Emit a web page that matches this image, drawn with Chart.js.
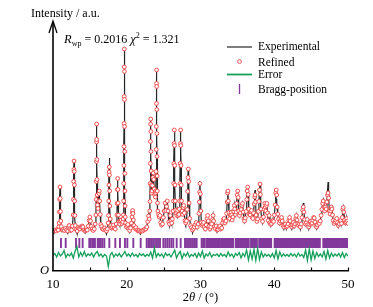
<!DOCTYPE html>
<html>
<head>
<meta charset="utf-8">
<script src="https://cdn.jsdelivr.net/npm/chart.js@4"></script>
<style>
  html, body { margin: 0; padding: 0; background: #fff; }
  canvas { display: block; }
</style>
</head>
<body>
<canvas id="xrd" width="373" height="307"></canvas>
<script>
// 2θ positions of the profile (deg)
const twoTheta = [
  10.00, 10.15, 10.30, 10.45, 10.60, 10.72, 10.80,
  10.84, 10.87, 10.90, 10.95, 10.99, 11.02, 11.06, 11.12,
  11.25, 11.40, 11.55, 11.70, 11.85, 12.00, 12.12, 12.20, 12.28, 12.40, 12.52, 12.64,
  12.74, 12.77, 12.80, 12.825, 12.85, 12.875, 12.90, 12.93, 12.97, 13.03,
  13.15, 13.28, 13.40, 13.52, 13.65, 13.80, 13.95, 14.05, 14.20, 14.35, 14.50, 14.65, 14.80, 14.90, 15.00, 15.08, 15.18, 15.30, 15.45, 15.60, 15.72,
  15.82, 15.85, 15.87, 15.89, 15.905, 15.92, 15.935, 15.95, 15.97, 15.995, 16.03, 16.10, 16.18, 16.24, 16.28, 16.33, 16.40, 16.48,
  16.60, 16.72, 16.85, 17.00, 17.12, 17.25, 17.38, 17.48,
  17.53, 17.56, 17.59, 17.61, 17.63, 17.655, 17.68, 17.71, 17.76, 17.84,
  17.95, 18.08, 18.20, 18.32, 18.45, 18.57,
  18.67, 18.70, 18.73, 18.77, 18.80, 18.83, 18.88, 18.95,
  19.05, 19.15, 19.25, 19.35, 19.45, 19.52,
  19.55, 19.575, 19.595, 19.61, 19.625, 19.64, 19.655, 19.667, 19.675, 19.685, 19.697, 19.71, 19.725, 19.74, 19.755, 19.775, 19.80, 19.85,
  19.95, 20.05, 20.15, 20.28, 20.40, 20.52, 20.64,
  20.72, 20.76, 20.80, 20.84, 20.90, 20.98,
  21.10, 21.25, 21.40, 21.55, 21.70, 21.85, 22.00, 22.15, 22.30, 22.45, 22.60, 22.72, 22.85, 22.95, 23.05,
  23.12, 23.15, 23.175, 23.195, 23.215, 23.235, 23.25, 23.265, 23.285, 23.305, 23.33, 23.36, 23.42, 23.48, 23.54, 23.60, 23.66, 23.72, 23.80, 23.88, 23.93,
  23.95, 23.975, 23.995, 24.01, 24.025, 24.04, 24.05, 24.062, 24.075, 24.09, 24.105, 24.12, 24.14, 24.17, 24.22,
  24.30, 24.40, 24.50, 24.60, 24.72, 24.85, 24.97, 25.08, 25.20, 25.30, 25.40, 25.50, 25.60, 25.70, 25.80, 25.90, 26.00, 26.10, 26.20, 26.28,
  26.33, 26.36, 26.39, 26.42, 26.45, 26.48, 26.51, 26.54, 26.58, 26.64,
  26.72, 26.80, 26.90, 27.00, 27.08, 27.14,
  27.18, 27.21, 27.24, 27.27, 27.30, 27.33, 27.36, 27.39, 27.43, 27.50,
  27.58, 27.66, 27.72, 27.80, 27.90, 28.00, 28.10, 28.20,
  28.26, 28.30, 28.35, 28.40, 28.46, 28.54,
  28.65, 28.78, 28.92, 29.05, 29.18, 29.30, 29.42, 29.55, 29.68, 29.78,
  29.84, 29.88, 29.93, 29.98, 30.04, 30.12,
  30.22, 30.32, 30.42, 30.52, 30.65, 30.78, 30.90, 30.97, 31.05, 31.15, 31.28, 31.40, 31.52, 31.62, 31.70, 31.78, 31.88, 32.00, 32.12, 32.25, 32.38, 32.50, 32.62, 32.75, 32.88, 33.00, 33.10, 33.20, 33.32, 33.45, 33.55,
  33.62, 33.67, 33.72, 33.78, 33.86, 33.95, 34.05, 34.15, 34.22, 34.30, 34.40, 34.50, 34.58, 34.64, 34.72, 34.82, 34.90, 34.97, 35.04, 35.10, 35.18, 35.28, 35.40, 35.52, 35.62, 35.70, 35.78, 35.88, 35.98, 36.08, 36.18, 36.27, 36.34, 36.40, 36.46, 36.54, 36.64, 36.75, 36.85, 36.92, 37.00,
  37.10, 37.20, 37.28, 37.35, 37.40, 37.46, 37.54, 37.64, 37.74, 37.84, 37.92, 38.00, 38.07, 38.13, 38.20, 38.30, 38.42, 38.54, 38.64, 38.72, 38.78, 38.86, 38.94, 39.00, 39.08, 39.18, 39.30, 39.42, 39.52, 39.62, 39.72, 39.82, 39.92, 40.02, 40.12,
  40.20, 40.27, 40.33, 40.40, 40.48, 40.58, 40.70, 40.82, 40.92, 41.00, 41.08, 41.18, 41.30, 41.42, 41.52, 41.64, 41.76, 41.88, 41.98, 42.08, 42.16, 42.26, 42.38, 42.50, 42.60, 42.70, 42.82, 42.92, 43.00, 43.08, 43.18, 43.30, 43.42, 43.54, 43.66, 43.76, 43.85,
  43.94, 44.02, 44.12, 44.24, 44.36, 44.46, 44.56, 44.68, 44.80, 44.90, 45.00, 45.12, 45.24, 45.34, 45.42, 45.52, 45.64, 45.76, 45.88, 46.00, 46.12, 46.24, 46.36, 46.46, 46.56, 46.65, 46.74, 46.84,
  46.94, 47.04, 47.14, 47.22, 47.30, 47.37, 47.46, 47.56, 47.66, 47.74, 47.82, 47.90,
  48.00, 48.12, 48.24, 48.36, 48.48, 48.58, 48.68, 48.80, 48.92, 49.02, 49.12, 49.22, 49.30, 49.36, 49.44, 49.54, 49.64, 49.74, 49.82, 49.92, 50.00
];

// measured intensity (a.u.)
const observed = [
  400, 380, 415, 395, 420, 405, 440,
  480, 600, 720, 850, 730, 600, 500, 440,
  400, 420, 395, 430, 410, 380, 440, 460, 420, 395, 410, 450,
  560, 720, 900, 1020, 1110, 1000, 860, 700, 550, 450,
  410, 370, 440, 425, 420, 445, 455, 440, 400, 380, 415, 410, 450, 510, 550, 500, 440, 415, 395, 420, 470,
  560, 720, 900, 1100, 1300, 1480, 1320, 1120, 920, 760, 660, 620, 700, 780, 810, 700, 560, 460,
  450, 415, 410, 435, 400, 370, 420, 480,
  560, 720, 900, 1050, 1130, 1000, 820, 660, 520, 450,
  420, 445, 465, 430, 410, 470,
  560, 680, 820, 930, 820, 680, 560, 490,
  460, 505, 515, 470, 490, 520,
  560, 700, 880, 1060, 1250, 1480, 1750, 2050, 2230, 2000, 1720, 1450, 1200, 980, 800, 650, 540, 480,
  430, 455, 470, 420, 390, 430, 480,
  540, 590, 610, 580, 510, 450,
  420, 440, 405, 390, 400, 370, 400, 395, 410, 425, 420, 440, 500, 560, 520,
  600, 700, 880, 1080, 1300, 1480, 1530, 1400, 1200, 1000, 860, 780, 800, 860, 940, 990, 920, 820, 760, 740, 780,
  800, 1000, 1220, 1450, 1680, 1880, 2020, 1850, 1620, 1380, 1150, 950, 800, 680, 600,
  560, 540, 560, 480, 450, 470, 540, 600, 690, 600, 650, 710, 600, 480, 450, 560, 500, 470, 520, 600,
  700, 880, 1080, 1280, 1420, 1260, 1060, 860, 700, 610,
  570, 550, 610, 550, 560, 620,
  700, 880, 1080, 1280, 1420, 1260, 1060, 860, 700, 600,
  560, 640, 660, 580, 500, 470, 500, 620,
  800, 940, 1030, 900, 680, 520,
  450, 430, 380, 420, 440, 470, 490, 430, 470, 580,
  700, 800, 900, 780, 600, 480,
  450, 470, 490, 430, 410, 460, 530, 560, 500, 440, 410, 440, 470, 520, 560, 500, 440, 420, 450, 390, 410, 440, 450, 410, 430, 480, 520, 530, 480, 500, 580,
  700, 790, 810, 700, 580, 520, 560, 590, 560, 500, 540, 600, 660, 620, 560, 590, 680, 770, 810, 740, 600, 550, 580, 620, 660, 680, 590, 520, 490, 530, 600, 720, 810, 850, 770, 620, 560, 560, 600, 610, 530,
  520, 580, 680, 780, 810, 700, 560, 480, 520, 600, 700, 820, 880, 770, 620, 520, 480, 540, 620, 680, 640, 600, 660, 680, 580, 500, 560, 480, 450, 470, 500, 510, 490, 560, 660,
  760, 720, 700, 620, 560, 520, 470, 500, 520, 540, 500, 450, 420, 460, 470, 420, 450, 470, 510, 540, 500, 450, 420, 460, 490, 440, 470, 530, 560, 510, 470, 450, 470, 420, 470, 540, 620,
  680, 600, 510, 460, 490, 520, 460, 420, 470, 500, 460, 480, 510, 540, 530, 490, 440, 420, 460, 490, 470, 500, 560, 620, 680, 710, 640, 600,
  640, 620, 700, 800, 890, 760, 600, 570, 600, 640, 620, 560,
  500, 470, 490, 510, 530, 480, 440, 470, 500, 510, 470, 540, 620, 640, 590, 510, 470, 490, 530, 500, 470
];

// refined (calculated) intensity (a.u.)
const calculated = [
  405, 400, 410, 400, 415, 410, 445,
  480, 590, 715, 840, 725, 595, 500, 445,
  410, 415, 405, 425, 410, 400, 440, 455, 420, 405, 410, 450,
  560, 715, 895, 1015, 1100, 995, 860, 700, 555, 455,
  415, 400, 435, 425, 420, 440, 450, 440, 410, 400, 410, 410, 450, 505, 540, 500, 445, 420, 405, 420, 470,
  560, 715, 895, 1095, 1290, 1470, 1315, 1115, 915, 760, 660, 625, 700, 775, 800, 700, 565, 465,
  445, 420, 415, 430, 410, 400, 420, 480,
  555, 700, 860, 990, 1040, 960, 800, 650, 520, 455,
  430, 440, 460, 430, 420, 470,
  560, 675, 815, 925, 815, 680, 560, 495,
  470, 500, 510, 475, 490, 520,
  560, 700, 875, 1055, 1245, 1475, 1745, 2040, 2220, 1995, 1715, 1445, 1195, 975, 800, 650, 540, 480,
  440, 455, 465, 425, 405, 430, 480,
  540, 585, 605, 575, 510, 455,
  425, 435, 410, 400, 405, 395, 400, 400, 410, 420, 420, 440, 495, 550, 520,
  600, 695, 875, 1075, 1295, 1470, 1520, 1395, 1195, 1000, 860, 780, 800, 855, 935, 980, 915, 820, 760, 740, 780,
  800, 995, 1215, 1445, 1675, 1875, 2010, 1845, 1615, 1375, 1145, 950, 800, 680, 600,
  565, 540, 555, 485, 460, 470, 535, 600, 680, 605, 645, 700, 600, 490, 470, 555, 505, 480, 520, 600,
  700, 875, 1075, 1275, 1410, 1255, 1055, 860, 700, 610,
  575, 555, 605, 555, 565, 620,
  700, 875, 1075, 1275, 1410, 1255, 1055, 860, 700, 600,
  565, 635, 655, 580, 505, 480, 500, 615,
  795, 935, 1020, 895, 680, 525,
  455, 435, 410, 425, 440, 465, 485, 440, 470, 575,
  690, 790, 875, 770, 600, 485,
  455, 470, 485, 440, 420, 460, 525, 555, 500, 445, 420, 440, 470, 515, 555, 500, 445, 425, 450, 410, 415, 440, 450, 420, 430, 480, 515, 525, 480, 500, 575,
  690, 780, 800, 700, 585, 525, 560, 585, 560, 510, 540, 595, 655, 620, 565, 590, 675, 760, 800, 735, 600, 555, 580, 615, 655, 675, 590, 525, 500, 530, 595, 715, 800, 840, 765, 620, 565, 560, 595, 605, 535,
  525, 580, 670, 740, 760, 690, 560, 495, 520, 595, 695, 810, 870, 765, 620, 525, 495, 540, 615, 675, 640, 600, 655, 675, 580, 505, 555, 485, 465, 475, 500, 505, 495, 560, 660,
  780, 810, 760, 640, 570, 520, 480, 500, 520, 535, 500, 455, 440, 460, 470, 440, 450, 470, 505, 535, 500, 455, 440, 460, 485, 450, 470, 525, 555, 510, 470, 455, 470, 440, 470, 535, 610,
  640, 590, 515, 470, 485, 515, 465, 440, 465, 495, 470, 480, 505, 535, 530, 490, 450, 440, 460, 485, 475, 500, 555, 615, 675, 700, 640, 600,
  640, 620, 690, 760, 780, 730, 600, 570, 600, 640, 620, 560,
  505, 475, 490, 505, 525, 485, 455, 470, 500, 505, 475, 535, 615, 635, 590, 510, 480, 490, 525, 500, 475
];

// difference curve, sampled every 0.25 deg from 10 to 50 (shifted down)
const errorStart = 10, errorStep = 0.25;
const errorValues = [
  160, 175, 140, 185, 150, 170, 205, 135, 170, 150,
  180, 130, 200, 240, 140, 185, 150, 195, 145, 170,
  155, 180, 140, 175, 195, 150, 170, 140, 165, 150,
  45, 160, 185, 140, 170, 150, 175, 140, 165, 195,
  150, 170, 145, 180, 150, 165, 140, 175, 155, 170,
  145, 165, 150, 190, 130, 230, 140, 175, 150, 170,
  135, 180, 155, 170, 140, 175, 210, 130, 170, 195,
  125, 175, 150, 185, 140, 165, 150, 175, 135, 180,
  145, 200, 130, 170, 150, 185, 140, 165, 155, 170,
  145, 175, 150, 165, 140, 190, 150, 170, 135, 175,
  155, 185, 130, 175, 145, 210, 110, 200, 120, 215,
  105, 225, 115, 190, 140, 170, 150, 165, 140, 175,
  130, 205, 120, 190, 145, 170, 150, 165, 145, 175,
  150, 170, 140, 180, 150, 165, 135, 210, 105, 220,
  110, 200, 125, 185, 145, 170, 140, 195, 120, 205,
  130, 180, 145, 170, 150, 175, 140, 185, 135, 175,
  150
];

// Bragg reflection positions (deg)
const braggPositions = [
  11.08, 11.72, 13.12, 13.57, 14.02, 14.92, 15.11, 15.33, 15.51, 15.69,
  16.06, 16.24, 16.46, 16.69, 16.96, 17.64, 18.45, 19.08, 19.76, 20.08,
  20.89, 21.89, 22.70, 22.93, 23.15, 23.42, 23.69, 23.97, 24.24, 24.51,
  24.96, 25.23, 25.50, 25.77, 26.05, 26.31, 26.77, 27.31, 27.90, 28.17,
  28.44, 28.71, 28.98, 29.25, 29.48, 30.15, 30.35, 30.55, 30.80,
  31.00, 31.12, 31.25, 31.40, 31.52, 31.66, 31.80, 31.93, 32.07, 32.20,
  32.34, 32.50, 32.63, 32.80, 32.94, 33.08, 33.20, 33.35, 33.48, 33.62,
  33.76, 33.90, 34.05, 34.18, 34.32, 34.45, 34.80, 34.93, 35.06, 35.20,
  35.33, 35.48, 35.60, 35.74, 35.88, 36.00, 36.14, 36.28, 36.42, 36.55,
  36.85, 36.98, 37.12, 37.25, 37.38, 37.52, 37.65, 37.95, 38.08, 38.22,
  38.35, 38.48, 38.62, 38.75, 38.90, 39.03, 39.16, 39.30, 39.45, 39.58,
  40.05, 40.18, 40.32, 40.45, 40.58, 40.72, 40.85, 40.98, 41.12, 41.25,
  41.38, 41.52, 41.65, 41.78, 41.92, 42.05, 42.18, 42.32, 42.45, 42.58,
  42.72, 42.85, 42.98, 43.12, 43.25, 43.38, 43.52, 43.65, 43.78, 43.92,
  44.05, 44.18, 44.32, 44.45, 44.58, 44.72, 44.85, 44.98, 45.12, 45.25,
  45.38, 45.52, 45.65, 45.78, 45.92, 46.05, 46.18, 46.65, 46.78, 46.92,
  47.05, 47.18, 47.32, 47.45, 47.58, 47.72, 47.85, 47.98, 48.12, 48.25,
  48.38, 48.52, 48.65, 48.78, 48.92, 49.05, 49.18, 49.32, 49.45, 49.58,
  49.72, 49.85, 49.98
];
const braggLevel = 280;   // height of the tick row

const xTickValues = [10, 20, 30, 40, 50];
const xMinorTicks = [15, 20, 25, 30, 35, 40, 45, 50];

if (twoTheta.length !== observed.length || twoTheta.length !== calculated.length) {
  throw new Error('length mismatch ' + twoTheta.length + ' ' + observed.length + ' ' + calculated.length);
}

const SERIF = '"Liberation Serif", "Times New Roman", serif';
const colors = { obs: '#262626', calc: '#ef3e3e', err: '#14a05a', bragg: '#83399b' };

const obsPts = twoTheta.map((t, i) => ({ x: t, y: observed[i] }));
const calcPts = twoTheta.map((t, i) => ({ x: t, y: calculated[i] }));
const errPts = errorValues.map((v, i) => ({ x: errorStart + i * errorStep, y: v }));
const braggPts = braggPositions.map((t) => ({ x: t, y: braggLevel }));

function drawRich(ctx, x, y, parts) {
  parts.forEach((p) => {
    ctx.font = p.font;
    ctx.fillText(p.text, x, y + (p.dy || 0));
    x += ctx.measureText(p.text).width;
  });
  return x;
}
function richWidth(ctx, parts) {
  let w = 0;
  parts.forEach((p) => { ctx.font = p.font; w += ctx.measureText(p.text).width; });
  return w;
}

const decor = {
  id: 'decor',
  afterDraw(chart) {
    const { ctx, chartArea: a, scales: { x } } = chart;
    ctx.save();
    ctx.strokeStyle = '#000';
    ctx.fillStyle = '#000';
    ctx.lineWidth = 1.6;
    // y axis with arrow
    ctx.beginPath();
    ctx.moveTo(a.left, a.bottom);
    ctx.lineTo(a.left, a.top - 3);
    ctx.stroke();
    ctx.lineWidth = 1.3;
    ctx.beginPath();
    ctx.moveTo(a.left - 4, a.top + 8);
    ctx.lineTo(a.left, a.top - 4);
    ctx.lineTo(a.left + 4, a.top + 8);
    ctx.stroke();
    // inward x ticks
    ctx.lineWidth = 1.2;
    xMinorTicks.forEach((v) => {
      const px = Math.round(x.getPixelForValue(v)) + 0.5;
      ctx.beginPath();
      ctx.moveTo(px, a.bottom);
      ctx.lineTo(px, a.bottom - 3.5);
      ctx.stroke();
    });
    // texts
    ctx.textBaseline = 'alphabetic';
    ctx.textAlign = 'left';
    ctx.font = '12px ' + SERIF;
    ctx.fillText('Intensity / a.u.', 31, 17);
    ctx.font = 'italic 12.5px ' + SERIF;
    ctx.fillText('O', 40, 274);

    drawRich(ctx, 64, 42.5, [
      { text: 'R', font: 'italic 12.5px ' + SERIF },
      { text: 'wp', font: '8px ' + SERIF, dy: 3 },
      { text: ' = 0.2016 ', font: '12px ' + SERIF },
      { text: 'χ', font: 'italic 12.5px ' + SERIF },
      { text: '2', font: '8px ' + SERIF, dy: -5 },
      { text: ' = 1.321', font: '12px ' + SERIF }
    ]);

    const titleParts = [
      { text: '2', font: '12.5px ' + SERIF },
      { text: 'θ', font: 'italic 12.5px ' + SERIF },
      { text: ' / (°)', font: '12.5px ' + SERIF }
    ];
    const tw = richWidth(ctx, titleParts);
    drawRich(ctx, (a.left + a.right) / 2 - tw / 2, 301, titleParts);

    // legend
    const lx0 = 227, lx1 = 252, tx = 258;
    ctx.font = '11.5px ' + SERIF;
    ctx.textBaseline = 'middle';
    ctx.fillText('Experimental', tx, 47);
    ctx.fillText('Refined', tx, 62.5);
    ctx.fillText('Error', tx, 75);
    ctx.fillText('Bragg-position', tx, 90);
    ctx.strokeStyle = colors.obs; ctx.lineWidth = 1.2;
    ctx.beginPath(); ctx.moveTo(lx0, 47); ctx.lineTo(lx1, 47); ctx.stroke();
    ctx.strokeStyle = colors.calc; ctx.lineWidth = 0.9; ctx.fillStyle = '#fff';
    ctx.beginPath(); ctx.arc(239.5, 61.5, 1.9, 0, Math.PI * 2); ctx.fill(); ctx.stroke();
    ctx.strokeStyle = colors.err; ctx.lineWidth = 1.8;
    ctx.beginPath(); ctx.moveTo(lx0, 74.5); ctx.lineTo(lx1, 74.5); ctx.stroke();
    ctx.strokeStyle = colors.bragg; ctx.lineWidth = 1.3;
    ctx.beginPath(); ctx.moveTo(239.5, 84); ctx.lineTo(239.5, 94); ctx.stroke();
    ctx.restore();
  }
};

new Chart(document.getElementById('xrd').getContext('2d'), {
  type: 'line',
  data: {
    datasets: [
      {
        label: 'Refined',
        data: calcPts,
        showLine: false,
        pointRadius: 1.9,
        pointBorderWidth: 0.9,
        pointBorderColor: colors.calc,
        pointBackgroundColor: '#fff',
        order: 0
      },
      {
        label: 'Experimental',
        data: obsPts,
        borderColor: colors.obs,
        borderWidth: 1.2,
        pointRadius: 0,
        tension: 0,
        order: 1
      },
      {
        label: 'Error',
        data: errPts,
        borderColor: colors.err,
        borderWidth: 1.3,
        pointRadius: 0,
        tension: 0,
        order: 2
      },
      {
        label: 'Bragg-position',
        data: braggPts,
        showLine: false,
        pointStyle: 'line',
        pointRotation: 90,
        pointRadius: 5,
        pointBorderWidth: 1.9,
        pointBorderColor: colors.bragg,
        order: 3
      }
    ]
  },
  options: {
    responsive: false,
    animation: false,
    events: [],
    layout: { padding: { left: 53, right: 25, top: 25, bottom: 0 } },
    plugins: { legend: { display: false }, tooltip: { enabled: false } },
    scales: {
      x: {
        type: 'linear',
        min: 10,
        max: 50,
        afterFit: (scale) => { scale.height = 36; },
        grid: { display: false, drawTicks: false },
        border: { display: true, color: '#000', width: 1.6 },
        afterBuildTicks: (scale) => { scale.ticks = xTickValues.map((v) => ({ value: v })); },
        ticks: { color: '#000', padding: 6, maxRotation: 0, font: { family: SERIF, size: 13 } }
      },
      y: { display: false, min: 0, max: 2460 }
    }
  },
  plugins: [decor]
});
</script>
</body>
</html>
